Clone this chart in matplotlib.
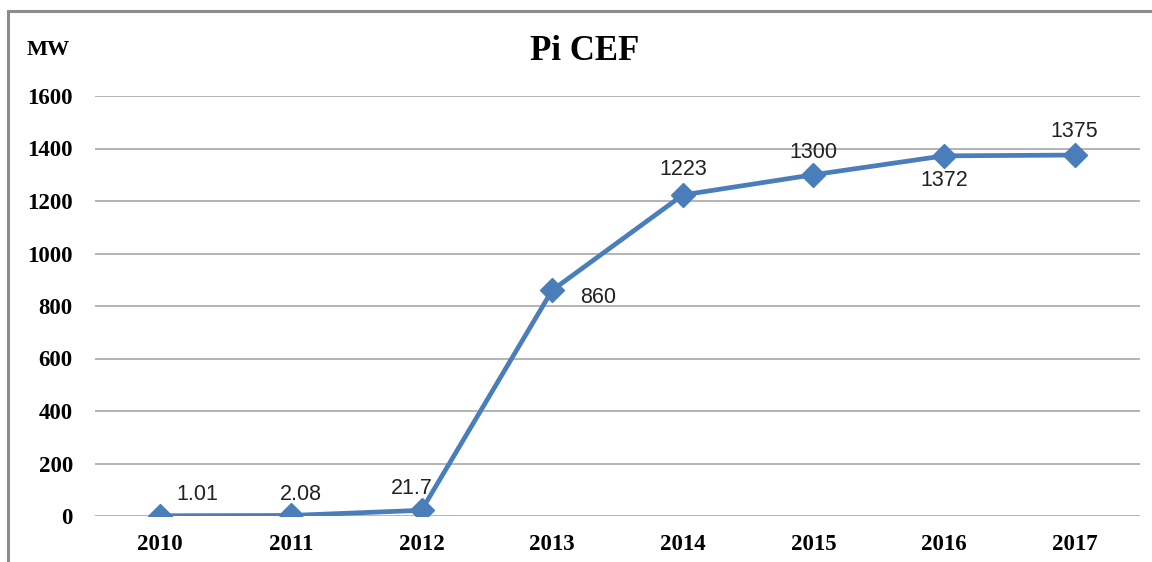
import matplotlib
matplotlib.use("Agg")
import matplotlib.pyplot as plt
from matplotlib.patches import Rectangle

years = ["2010", "2011", "2012", "2013", "2014", "2015", "2016", "2017"]
capacity_mw = [1.01, 2.08, 21.7, 860, 1223, 1300, 1372, 1375]
label_texts = ["1.01", "2.08", "21.7", "860", "1223", "1300", "1372", "1375"]
y_ticks = [0, 200, 400, 600, 800, 1000, 1200, 1400, 1600]

W, H = 1152, 562
fig = plt.figure(figsize=(W / 100, H / 100), dpi=100)
fig.patch.set_facecolor("white")

ax = fig.add_axes([95 / W, 1 - 516 / H, (1140 - 95) / W, (516 - 96) / H])
x = list(range(len(years)))
ax.plot(x, capacity_mw, color="#4A7EBB", lw=3.4, marker="D", markersize=12.5,
        markerfacecolor="#4A7EBB", markeredgecolor="#4A7EBB", zorder=3,
        solid_joinstyle="round")

ax.set_xlim(-0.5, len(years) - 0.5)
ax.set_ylim(0, 1600)
ax.set_yticks(y_ticks)
ax.set_xticks(x)
ax.set_xticklabels(years)
ax.yaxis.grid(True, color="#B4B4B4", lw=1.4)
ax.set_axisbelow(True)
for s in ax.spines.values():
    s.set_visible(False)
ax.tick_params(length=0)
serif = {"family": "Liberation Serif", "weight": "bold", "size": 16.5}
for lab in ax.get_yticklabels():
    lab.set_fontproperties(serif)
for lab in ax.get_xticklabels():
    lab.set_fontproperties(serif)
ax.tick_params(axis="y", pad=16)
ax.tick_params(axis="x", pad=13)

# data labels: offsets in points (dx, dy) from each marker
offsets = [(27, 15), (7, 15), (-7, 16), (33, -5), (0, 18), (0, 16), (0, -18), (0, 17)]
for xi, yi, t, (dx, dy) in zip(x, capacity_mw, label_texts, offsets):
    ax.annotate(t, (xi, yi), xytext=(dx, dy), textcoords="offset points",
                ha="center", va="center", fontsize=15.5,
                family="Liberation Sans", color="#222222")

fig.text(585 / W, 1 - 52 / H, "Pi CEF", ha="center", va="center",
         family="Liberation Serif", weight="bold", fontsize=25)
fig.text(27 / W, 1 - 50 / H, "MW", ha="left", va="center",
         family="Liberation Serif", weight="bold", fontsize=16)

# outer chart frame (extends past right/bottom edges)
fig.patches.append(Rectangle((8 / W, -0.05), 1.1, 1 - 11 / H + 0.05,
                             transform=fig.transFigure, fill=False,
                             edgecolor="#8C8C8C", lw=2.2))

fig.savefig("out.png", dpi=100)
